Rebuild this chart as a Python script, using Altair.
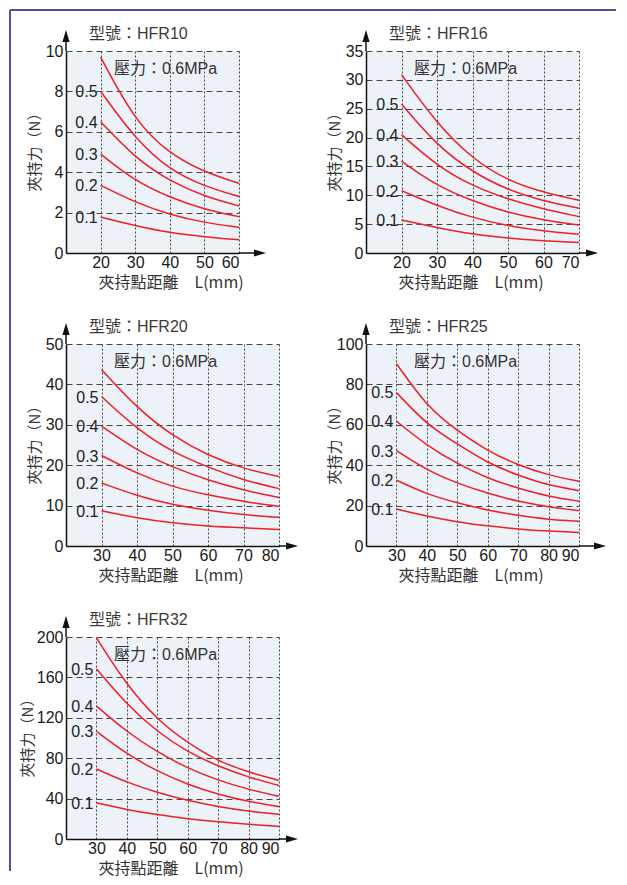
import altair as alt
import pandas as pd

pressures = ["0.1", "0.2", "0.3", "0.4", "0.5", "0.6"]

# HFR10
hfr10_L = [20, 30, 40, 50, 60]
hfr10_F = [
    [1.78, 1.35, 1.0, 0.8, 0.65],
    [3.35, 2.5, 1.9, 1.5, 1.27],
    [4.9, 3.55, 2.75, 2.15, 1.8],
    [6.5, 4.7, 3.55, 2.8, 2.33],
    [8.0, 5.65, 4.1, 3.3, 2.8],
    [9.7, 6.5, 4.9, 4.0, 3.45],
]
hfr10_yticks = [0, 2, 4, 6, 8, 10]
hfr10_xticks = [20, 30, 40, 50, 60]

# HFR16
hfr16_L = [20, 30, 40, 50, 60, 70]
hfr16_F = [
    [5.7, 4.4, 3.24, 2.55, 2.1, 1.8],
    [10.8, 8.2, 6.1, 4.7, 3.8, 3.24],
    [15.9, 11.6, 9.0, 7.0, 5.7, 4.86],
    [20.5, 15.1, 11.6, 9.3, 7.6, 6.3],
    [25.8, 18.6, 14.0, 10.9, 9.0, 7.76],
    [30.9, 22.4, 16.3, 12.5, 10.5, 9.15],
]
hfr16_yticks = [0, 5, 10, 15, 20, 25, 30, 35]
hfr16_xticks = [20, 30, 40, 50, 60, 70]

# HFR20
hfr20_L = [30, 40, 50, 60, 70, 80]
hfr20_F = [
    [8.7, 6.9, 5.7, 4.9, 4.5, 4.1],
    [15.6, 12.4, 10.2, 8.8, 7.7, 7.1],
    [22.4, 17.9, 14.6, 12.6, 11.0, 9.8],
    [29.7, 23.6, 19.5, 16.3, 13.8, 12.0],
    [37.0, 28.9, 23.2, 19.5, 16.3, 14.2],
    [43.7, 34.1, 27.2, 22.4, 19.1, 17.2],
]
hfr20_yticks = [0, 10, 20, 30, 40, 50]
hfr20_xticks = [30, 40, 50, 60, 70, 80]

# HFR25
hfr25_L = [30, 40, 50, 60, 70, 80, 90]
hfr25_F = [
    [18.3, 14.8, 11.9, 9.9, 8.3, 7.3, 6.7],
    [32.6, 25.6, 21.3, 17.7, 15.1, 13.1, 12.3],
    [47.2, 37.5, 31.0, 26.1, 22.0, 19.3, 17.5],
    [61.8, 49.7, 40.7, 33.4, 28.6, 24.5, 22.2],
    [76.0, 60.0, 50.5, 41.0, 35.0, 30.0, 27.4],
    [90.3, 69.0, 57.0, 47.0, 40.0, 35.0, 32.0],
]
hfr25_yticks = [0, 20, 40, 60, 80, 100]
hfr25_xticks = [30, 40, 50, 60, 70, 80, 90]

# HFR32
hfr32_L = [30, 40, 50, 60, 70, 80, 90]
hfr32_F = [
    [35.8, 29, 24, 20, 17, 14.5, 12.4],
    [69.3, 56, 46, 38, 32, 27.5, 24.4],
    [106.7, 84, 67, 54, 44, 37, 32],
    [131.7, 106, 86, 70, 58, 49, 42.3],
    [168.5, 133, 106, 86, 72, 61, 53],
    [199, 152, 118, 95, 77, 66, 58],
]
hfr32_yticks = [0, 40, 80, 120, 160, 200]
hfr32_xticks = [30, 40, 50, 60, 70, 80, 90]

LATIN = "Liberation Sans, Noto Sans CJK TC"
CJK = "Noto Sans CJK TC"
RED = "#ee1f26"
H = 202
one = pd.DataFrame({"k": [0]})


def panel(model, L, forces, xticks, yticks, xmin, width, ext, ytx=-32, border=False):
    rows = []
    for p, vals in zip(pressures, forces):
        for l, v in zip(L, vals):
            rows.append({"L": l, "F": v, "P": p})
    df = pd.DataFrame(rows)
    lab = df[df["L"] == L[0]]
    lab = lab[lab["P"] != "0.6"]

    X = alt.X("L:Q", scale=alt.Scale(domain=[xmin, xticks[-1]], nice=False, zero=False),
              axis=alt.Axis(values=xticks, title="夾持點距離　L(mm)", titleX=32, titleY=29,
                            titleAlign="left", titleBaseline="middle", titleAngle=0,
                            gridDash=[2, 2], labelPadding=1))
    Y = alt.Y("F:Q", scale=alt.Scale(domain=[0, yticks[-1]], nice=False, zero=True),
              axis=alt.Axis(values=yticks, title="夾持力（N）", titleX=ytx, titleY=H / 2 - 4,
                            titleAngle=270, titleAlign="center", titleBaseline="middle",
                            titleFontSize=15, gridDash=[6, 4], labelPadding=3))

    lines = alt.Chart(df).mark_line(color=RED, strokeWidth=1.5, interpolate="basis").encode(
        x=X, y=Y, detail="P:N")
    labels = alt.Chart(lab).mark_text(align="right", baseline="middle", dx=-3, dy=1,
                                      fontSize=16, font=LATIN, color="#222").encode(
        x=X, y=Y, text="P:N")
    title = alt.Chart(one).mark_text(align="left", baseline="middle", fontSize=16,
                                     font=LATIN, color="#3a3a3a", text=f"型號：{model}").encode(
        x=alt.value(23), y=alt.value(-17))
    ptext = alt.Chart(one).mark_text(align="left", baseline="middle", fontSize=16,
                                     font=LATIN, color="#333", text="壓力：0.6MPa").encode(
        x=alt.value(48), y=alt.value(18))
    yline = alt.Chart(one).mark_rule(color="#111", strokeWidth=1.5).encode(
        x=alt.value(0), y=alt.value(0), y2=alt.value(-12))
    yhead = alt.Chart(one).mark_point(shape="M0,-1L0.6,1L-0.6,1Z", filled=True, size=144,
                                      color="#111", opacity=1, strokeWidth=0).encode(
        x=alt.value(0), y=alt.value(-15))
    xline = alt.Chart(one).mark_rule(color="#111", strokeWidth=1.5).encode(
        x=alt.value(width), x2=alt.value(width + ext - 8), y=alt.value(H))
    xhead = alt.Chart(one).mark_point(shape="M1,0L-1,-0.6L-1,0.6Z", filled=True, size=144,
                                      color="#111", opacity=1, strokeWidth=0).encode(
        x=alt.value(width + ext - 6), y=alt.value(H))
    layers = [lines, labels, title, ptext, yline, yhead, xline, xhead]
    if border:
        top = alt.Chart(one).mark_rule(color="#4f4f9c", strokeWidth=2).encode(
            x=alt.value(-56), x2=alt.value(550), y=alt.value(-41))
        left = alt.Chart(one).mark_rule(color="#4f4f9c", strokeWidth=2).encode(
            x=alt.value(-56), y=alt.value(-41), y2=alt.value(820))
        layers += [top, left]
    return alt.layer(*layers).properties(width=width, height=H)


p1 = panel("HFR10", hfr10_L, hfr10_F, hfr10_xticks, hfr10_yticks, 10, 173, 27, border=True)
p2 = panel("HFR16", hfr16_L, hfr16_F, hfr16_xticks, hfr16_yticks, 10, 213, 19)
p3 = panel("HFR20", hfr20_L, hfr20_F, hfr20_xticks, hfr20_yticks, 20, 213, 19)
p4 = panel("HFR25", hfr25_L, hfr25_F, hfr25_xticks, hfr25_yticks, 20, 213, 27)
p5 = panel("HFR32", hfr32_L, hfr32_F, hfr32_xticks, hfr32_yticks, 20, 213, 19, ytx=-39)

chart = alt.concat(
    p1, p2, p3, p4, p5, columns=2, spacing={"row": 91, "column": 87}, bounds="flush"
).properties(
    padding=0, background="white"
).configure_view(
    fill="#edf1f8", stroke="transparent"
).configure_axis(
    labelFont=LATIN, labelFontSize=16, labelColor="#1a1a1a",
    titleFont=CJK, titleFontSize=16, titleFontWeight="normal", titleColor="#333",
    domainColor="#111", domainWidth=1.5, ticks=False,
    gridColor="#444", gridOpacity=1, gridWidth=1,
).configure_text(font=LATIN)

chart.save("out.html", embed_options={"renderer": "svg", "actions": False})
